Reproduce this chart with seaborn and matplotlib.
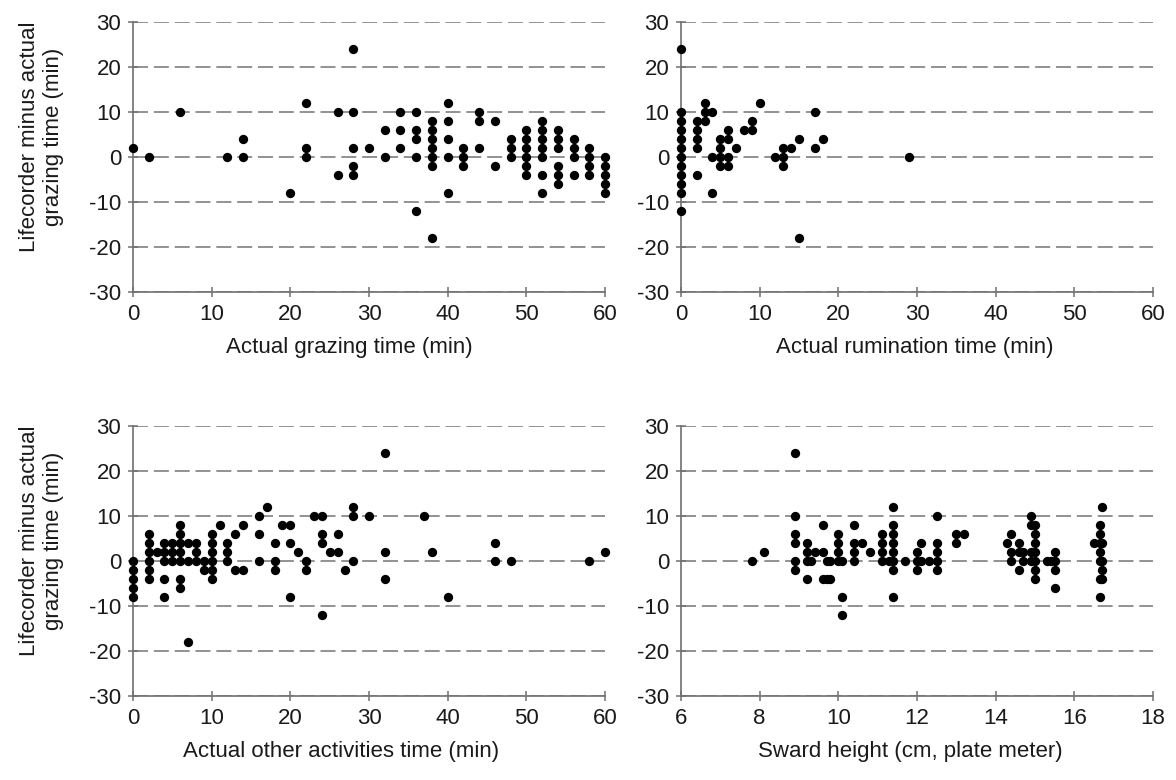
import matplotlib
matplotlib.use('Agg')
import matplotlib.pyplot as plt
import numpy as np
import pandas as pd
import seaborn as sns

# Bland-Altman style residual plots: Lifecorder minus actual grazing time

# grazing panel: x positions and the y values stacked at each x
graze_cols = [0, 2, 6, 12, 14, 20, 22, 26, 28, 30, 32, 34, 36, 38, 40,
              42, 44, 46, 48, 50, 52, 54, 56, 58, 60]
graze_vals = [[2], [0], [10], [0], [4, 0], [-8], [12, 2, 0], [10, -4],
              [24, 10, 2, -2, -4], [2], [6, 0], [10, 6, 2],
              [10, 6, 4, 0, -12], [8, 6, 4, 2, 0, -2, -18],
              [12, 8, 4, 0, -8], [2, 0, -2], [10, 8, 2], [8, -2],
              [4, 2, 0], [6, 4, 2, 0, -2, -4], [8, 6, 4, 2, 0, -4, -8],
              [6, 4, 2, -2, -4, -6], [4, 2, 0, -4], [2, 0, -2, -4],
              [0, -2, -4, -6, -8]]

# rumination panel
rum_cols = [0, 2, 3, 4, 5, 6, 7, 8, 9, 10, 12, 13, 14, 15, 17, 18, 29]
rum_vals = [[24, 10, 8, 6, 4, 2, 0, -2, -4, -6, -8, -12],
            [8, 6, 4, 2, -4], [12, 10, 8], [10, 0, -8], [4, 2, 0, -2],
            [6, 4, 0, -2], [2], [6], [8, 6], [12], [0], [2, 0, -2], [2],
            [4, -18], [10, 2], [4], [0]]

# other activities panel
other_cols = [0, 2, 3, 4, 5, 6, 7, 8, 9, 10, 11, 12, 13, 14, 16, 17, 18,
              19, 20, 21, 22, 23, 24, 25, 26, 27, 28, 30, 32, 37, 38, 40,
              46, 48, 58, 60]
other_vals = [[0, -2, -4, -6, -8], [6, 4, 2, 0, -2, -4], [2],
              [4, 2, 0, -4, -8], [4, 2, 0], [8, 6, 4, 2, 0, -4, -6],
              [4, 0, -18], [4, 2, 0], [0, -2], [6, 4, 2, 0, -2, -4], [8],
              [4, 2, 0], [6, -2], [8, -2], [10, 6, 0], [12], [4, 0, -2],
              [8], [8, 4, -8], [2], [0, -2], [10], [10, 6, 4, -12], [2],
              [6, 2], [-2], [12, 10, 0], [10], [24, 2, -4], [10], [2], [-8],
              [4, 0], [0], [0], [2]]

# sward height panel
sward_cols = [7.8, 8.1, 8.9, 9.2, 9.3, 9.4, 9.6, 9.7, 9.8, 10.0, 10.1,
              10.4, 10.6, 10.8, 11.1, 11.3, 11.4, 11.7, 12.0, 12.1, 12.3,
              12.5, 13.0, 13.2, 14.3, 14.4, 14.6, 14.7, 14.9, 15.0, 15.3,
              15.4, 15.5, 16.5, 16.65, 16.7]
sward_vals = [[0], [2], [24, 10, 6, 4, 0, -2], [4, 2, 0, -4], [0], [2],
              [8, 2, -4], [0, -4], [0, -4], [6, 4, 2, 0], [0, -8, -12],
              [8, 4, 2, 0], [4], [2], [6, 4, 2, 0], [0],
              [12, 8, 6, 4, 2, 0, -2, -8], [0], [2, 0, -2], [4, 0], [0],
              [10, 4, 2, 0, -2], [6, 4], [6], [4], [6, 2, 0], [4, 2, -2],
              [2, 0], [10, 8, 2, 0], [8, 6, 4, 2, 0, -2, -4], [0], [0],
              [2, 0, -2, -6], [4], [8, 6, 4, 2, 0, -4, -8],
              [12, 4, 0, -2, -4]]

XLABELS = ['Actual grazing time (min)', 'Actual rumination time (min)',
           'Actual other activities time (min)',
           'Sward height (cm, plate meter)']
YLABEL = 'Lifecorder minus actual\ngrazing time (min)'


def to_frame(cols, vals):
    xs = [c for c, v in zip(cols, vals) for _ in v]
    ys = [y for v in vals for y in v]
    return pd.DataFrame({'x': xs, 'diff': ys})


sns.set_style("white")
plt.rcParams['font.family'] = ['Liberation Sans', 'DejaVu Sans']
plt.rcParams['axes.unicode_minus'] = False

fig = plt.figure(figsize=(11.76, 7.8), dpi=100)
W, H = 1176, 780
boxes = [(133, 292), (681, 292), (133, 696), (681, 696)]
panels = [(graze_cols, graze_vals), (rum_cols, rum_vals),
          (other_cols, other_vals), (sward_cols, sward_vals)]
# x-label centres (axes fraction), the left ones sit a bit off-centre
xlabel_pos = [0.458, 0.495, 0.44, 0.485]

for i, ((left, bottom), (cols, vals)) in enumerate(zip(boxes, panels)):
    ax = fig.add_axes([left / W, 1 - bottom / H, 472 / W, 270 / H])
    df = to_frame(cols, vals)
    sns.scatterplot(data=df, x='x', y='diff', ax=ax, color='black', s=45,
                    linewidth=0, zorder=3, clip_on=False)
    if i == 3:
        ax.set_xlim(6, 18)
        ax.set_xticks(np.arange(6, 19, 2))
    else:
        ax.set_xlim(0, 60)
        ax.set_xticks(np.arange(0, 61, 10))
    ax.set_ylim(-30, 30)
    ax.set_yticks(np.arange(-30, 31, 10))
    ax.yaxis.grid(True, linestyle=(0, (9, 3.5)), color='#7f7f7f', lw=1.2)
    ax.xaxis.grid(False)
    ax.set_axisbelow(True)
    sns.despine(ax=ax)
    for side in ['left', 'bottom']:
        ax.spines[side].set_color('#707070')
        ax.spines[side].set_linewidth(1.2)
    ax.tick_params(bottom=True, left=True, direction='inout', length=7,
                   width=1.1, color='#707070', labelsize=16,
                   labelcolor='#1a1a1a', pad=5)
    ax.set_xlabel(XLABELS[i], fontsize=16, color='#1a1a1a', labelpad=9)
    ax.xaxis.label.set_x(xlabel_pos[i])
    if i % 2 == 0:
        ax.set_ylabel(YLABEL, fontsize=16, color='#1a1a1a', labelpad=18)
        ax.yaxis.label.set_y(0.574)
    else:
        ax.set_ylabel('')

fig.savefig('out.png', dpi=100)
